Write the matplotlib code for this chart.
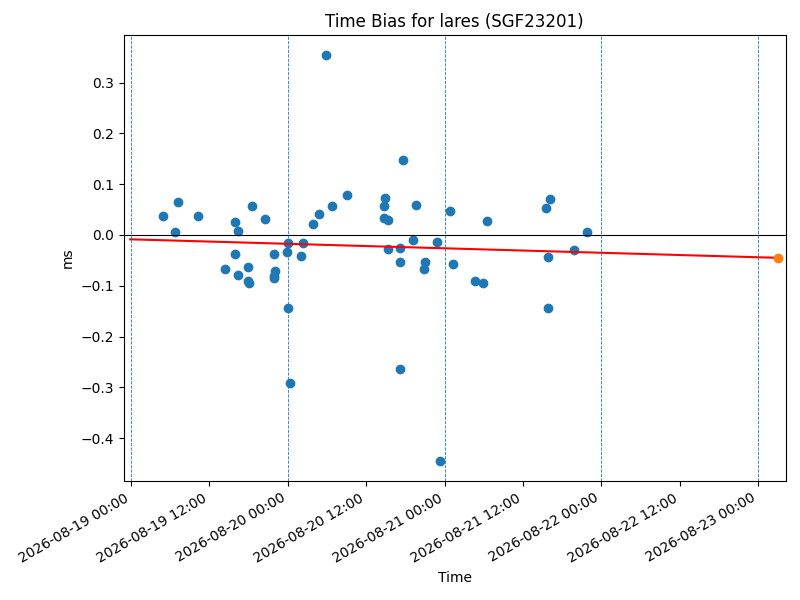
import matplotlib
matplotlib.use("Agg")
import matplotlib.pyplot as plt
import matplotlib.dates as mdates
import pandas as pd

title = "Time Bias for lares (SGF23201)"

obs_times = [
    "2026-08-19 04:52", "2026-08-19 06:43", "2026-08-19 07:10", "2026-08-19 10:15",
    "2026-08-19 14:22", "2026-08-19 15:55", "2026-08-19 15:55", "2026-08-19 16:22",
    "2026-08-19 16:22", "2026-08-19 17:54", "2026-08-19 17:54", "2026-08-19 18:03",
    "2026-08-19 18:31", "2026-08-19 20:31", "2026-08-19 21:53", "2026-08-19 22:03",
    "2026-08-19 21:53", "2026-08-19 21:53", "2026-08-20 00:02", "2026-08-19 23:53",
    "2026-08-20 00:02", "2026-08-20 00:21", "2026-08-20 02:02", "2026-08-20 02:17",
    "2026-08-20 03:52", "2026-08-20 04:47", "2026-08-20 05:55", "2026-08-20 06:46",
    "2026-08-20 09:04", "2026-08-20 14:54", "2026-08-20 14:45", "2026-08-20 14:42",
    "2026-08-20 15:25", "2026-08-20 15:22", "2026-08-20 17:14", "2026-08-20 17:14",
    "2026-08-20 17:12", "2026-08-20 17:38", "2026-08-20 19:12", "2026-08-20 19:34",
    "2026-08-20 21:02", "2026-08-20 20:52", "2026-08-20 22:52", "2026-08-20 23:20",
    "2026-08-21 00:51", "2026-08-21 01:19", "2026-08-21 04:42", "2026-08-21 05:49",
    "2026-08-21 06:32", "2026-08-21 15:34", "2026-08-21 15:53", "2026-08-21 15:53",
    "2026-08-21 16:11", "2026-08-21 19:52", "2026-08-21 21:50",
]
obs_bias_ms = [
    0.038, 0.006, 0.065, 0.038,
    -0.067, 0.026, -0.0375, 0.008,
    -0.079, -0.063, -0.090, -0.0947,
    0.058, 0.032, -0.0375, -0.070,
    -0.080, -0.085, -0.016, -0.0335,
    -0.144, -0.292, -0.042, -0.016,
    0.022, 0.041, 0.354, 0.058,
    0.079, 0.072, 0.057, 0.034,
    0.030, -0.028, -0.026, -0.053,
    -0.264, 0.148, -0.010, 0.059,
    -0.053, -0.067, -0.0136, -0.445,
    0.048, -0.057, -0.090, -0.095,
    0.028, 0.053, -0.043, -0.144,
    0.070, -0.029, 0.0065,
]

trend_times = ["2026-08-18 23:53", "2026-08-23 03:04"]
trend_bias_ms = [-0.0085, -0.0450]

pred_time = ["2026-08-23 03:04"]
pred_bias_ms = [-0.0454]

day_lines = ["2026-08-19", "2026-08-20", "2026-08-21", "2026-08-22", "2026-08-23"]
x_limits = ["2026-08-18 22:56", "2026-08-23 04:12"]

t_obs = pd.to_datetime(obs_times)
t_trend = pd.to_datetime(trend_times)
t_pred = pd.to_datetime(pred_time)

fig, ax = plt.subplots(figsize=(8, 6), dpi=100)
ax.plot(t_obs, obs_bias_ms, "o", color="C0")
ax.plot(t_trend, trend_bias_ms, "-", color="red", lw=1.5)
ax.plot(t_pred, pred_bias_ms, "o", color="C1")
ax.axhline(0, color="black", lw=0.8)
for d in pd.to_datetime(day_lines):
    ax.axvline(d, color="C0", ls="--", lw=0.6)

ax.set_xlim(pd.to_datetime(x_limits[0]), pd.to_datetime(x_limits[1]))
ax.xaxis.set_major_locator(mdates.HourLocator(byhour=[0, 12]))
ax.xaxis.set_major_formatter(mdates.DateFormatter("%Y-%m-%d %H:%M"))
ax.set_title(title)
ax.set_xlabel("Time")
ax.set_ylabel("ms")
fig.autofmt_xdate()
fig.subplots_adjust(left=0.155, right=0.982, top=0.9417, bottom=0.198)
fig.savefig("out.png", dpi=100)
